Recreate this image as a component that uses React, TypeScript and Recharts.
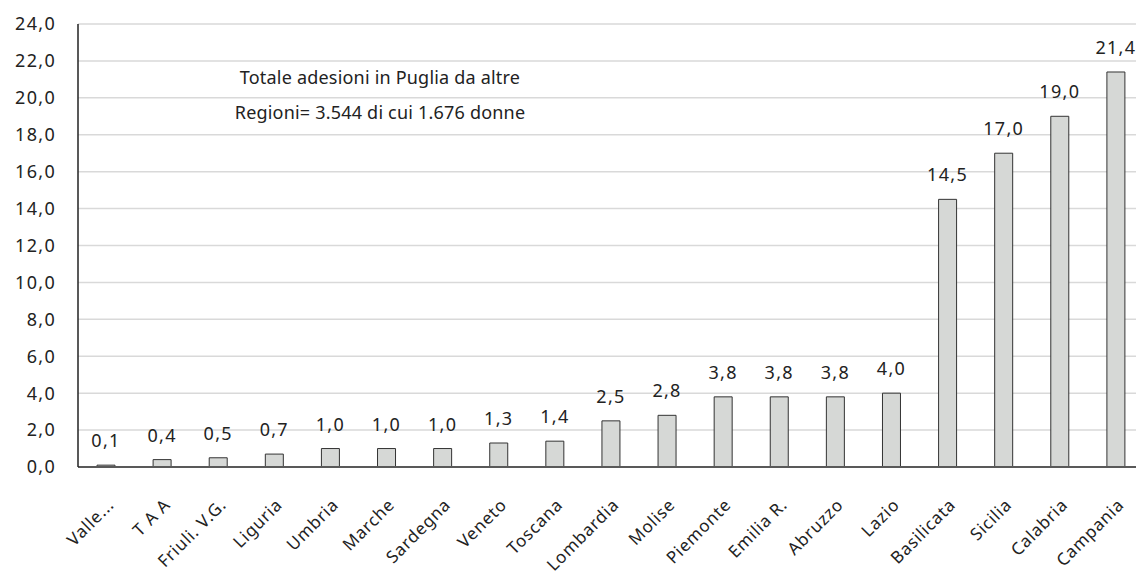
import { Bar, BarChart, CartesianGrid, LabelList, XAxis, YAxis } from "recharts";

const regions = [
  "Valle...",
  "T A A",
  "Friuli. V.G.",
  "Liguria",
  "Umbria",
  "Marche",
  "Sardegna",
  "Veneto",
  "Toscana",
  "Lombardia",
  "Molise",
  "Piemonte",
  "Emilia R.",
  "Abruzzo",
  "Lazio",
  "Basilicata",
  "Sicilia",
  "Calabria",
  "Campania",
];
const shares = [0.1, 0.4, 0.5, 0.7, 1.0, 1.0, 1.0, 1.3, 1.4, 2.5, 2.8, 3.8, 3.8, 3.8, 4.0, 14.5, 17.0, 19.0, 21.4];
const yTicks = [0, 2, 4, 6, 8, 10, 12, 14, 16, 18, 20, 22, 24];
const noteLines = ["Totale adesioni in Puglia da altre", "Regioni= 3.544 di cui 1.676 donne"];

const data = regions.map((region, i) => ({ region, value: shares[i] }));

const font = "'Noto Sans', sans-serif";

function formatComma(value: number) {
  return Number(value).toFixed(1).replace(".", ",");
}

function RegionTick({ x, y, payload }: any) {
  const ax = x + 9;
  const ay = y + 31;
  return (
    <text
      x={ax}
      y={ay}
      transform={`rotate(-45, ${ax}, ${ay})`}
      textAnchor="end"
      fontFamily={font}
      fontSize={17}
      letterSpacing={0.8}
      fill="#222"
    >
      {payload.value}
    </text>
  );
}

export default function App() {
  return (
    <div style={{ position: "relative", margin: -8, width: 1144, height: 580, background: "#fff" }}>
      <BarChart width={1144} height={580} data={data} margin={{ top: 24, right: 0, bottom: 0, left: 0 }} barCategoryGap={0}>
        <CartesianGrid vertical={false} stroke="#d9d9d9" strokeWidth={1.5} />
        <XAxis
          dataKey="region"
          interval={0}
          height={113}
          tickLine={false}
          axisLine={{ stroke: "#595959", strokeWidth: 2 }}
          tick={<RegionTick />}
        />
        <YAxis
          domain={[0, 24]}
          ticks={yTicks}
          width={78}
          tickLine={false}
          tickSize={0}
          tickMargin={22}
          axisLine={{ stroke: "#222", strokeWidth: 1.5 }}
          tickFormatter={formatComma}
          tick={{ fontFamily: font, fontSize: 18, fill: "#222", letterSpacing: 1.3 }}
        />
        <Bar dataKey="value" barSize={18} fill="#d6d8d6" stroke="#333" strokeWidth={1} isAnimationActive={false}>
          <LabelList
            dataKey="value"
            position="top"
            offset={18}
            formatter={(v: any) => formatComma(v)}
            style={{ fontFamily: font, fontSize: 18, fill: "#222", letterSpacing: 1.3 }}
          />
        </Bar>
      </BarChart>
      <div
        style={{
          position: "absolute",
          left: 220,
          top: 60,
          width: 320,
          textAlign: "center",
          fontFamily: font,
          fontSize: 18,
          lineHeight: "35px",
          letterSpacing: 0.2,
          color: "#222",
        }}
      >
        {noteLines.map((line) => (
          <div key={line}>{line}</div>
        ))}
      </div>
    </div>
  );
}
